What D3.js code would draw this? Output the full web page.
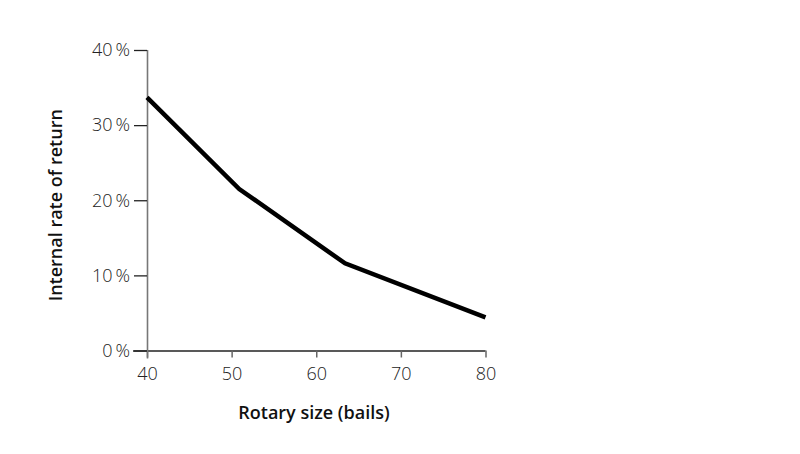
<!DOCTYPE html>
<html><head><meta charset="utf-8">
<script src="https://cdn.jsdelivr.net/npm/d3@7"></script>
<style>body{margin:0;background:#fff}svg{display:block}
.tl text{font-family:'Open Sans','Noto Sans',sans-serif;font-size:18px;font-weight:300;fill:#222;}
</style>
</head><body>
<svg id="c" width="800" height="454"></svg>
<script>
const rotarySize = [40, 50.9, 63.4, 80];
const irr = [33.7, 21.5, 11.6, 4.4];
const xTicks = [40, 50, 60, 70, 80];
const yTicks = [0, 10, 20, 30, 40];
const xTitle = "Rotary size (bails)";
const yTitle = "Internal rate of return";

const svg = d3.select("#c");
const font = "'Open Sans', 'Noto Sans', sans-serif";
const x = d3.scaleLinear().domain([40, 80]).range([147, 485.5]);
const y = d3.scaleLinear().domain([0, 40]).range([350.5, 50]);

// x axis
const gx = svg.append("g").attr("class", "tl").attr("transform", `translate(0,${y(0)})`)
  .call(d3.axisBottom(x).tickValues(xTicks).tickSize(7).tickPadding(10).tickSizeOuter(0));
gx.attr("font-size", null).attr("font-family", null);
gx.select(".domain").attr("stroke", "#222").attr("stroke-width", 1.3)
  .attr("d", `M${x(40)-14},0.5H${x(80)}`);
gx.selectAll(".tick line").attr("stroke", "#666").attr("stroke-width", 1.5);

// y axis
const gy = svg.append("g").attr("class", "tl").attr("transform", `translate(${x(40)},0)`)
  .call(d3.axisLeft(y).tickValues(yTicks).tickFormat(d => d + "\u2009%").tickSize(13).tickPadding(4).tickSizeOuter(0));
gy.attr("font-size", null).attr("font-family", null);
gy.select(".domain").attr("stroke", "#777").attr("stroke-width", 1.6)
  .attr("d", `M0.5,${y(40)}V${y(0)+8}`);
gy.selectAll(".tick line").attr("stroke", "#222").attr("stroke-width", 1.3);

// line
const data = rotarySize.map((d, i) => [d, irr[i]]);
svg.append("path").datum(data)
  .attr("fill", "none").attr("stroke", "#000").attr("stroke-width", 4.5)
  .attr("stroke-linejoin", "miter")
  .attr("d", d3.line().x(d => x(d[0])).y(d => y(d[1])));

// titles
svg.append("text").attr("x", 314).attr("y", 419).attr("text-anchor", "middle")
  .attr("font-family", font).attr("font-size", 18).attr("font-weight", 600).attr("fill", "#111")
  .text(xTitle);
svg.append("text").attr("transform", `translate(62,${(y(0)+y(40))/2 + 5}) rotate(-90)`)
  .attr("text-anchor", "middle")
  .attr("font-family", font).attr("font-size", 18).attr("font-weight", 600).attr("fill", "#111")
  .text(yTitle);
</script>
</body></html>
